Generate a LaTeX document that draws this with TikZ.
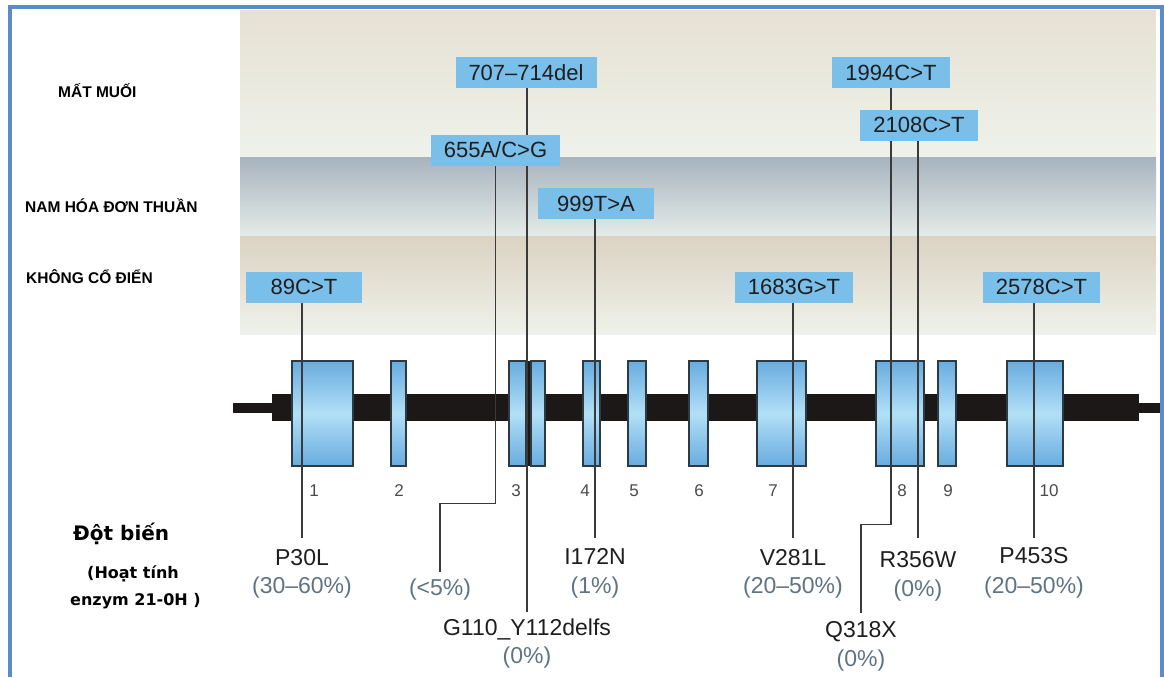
\documentclass[tikz,border=0pt]{standalone}
\usepackage{fontspec}
\setmainfont{Liberation Sans}
\newfontfamily\djv{DejaVu Sans}
\definecolor{Ink}{HTML}{1E1E1E}
\definecolor{Frame}{HTML}{5A8AD0}
\definecolor{BoxBlue}{HTML}{7ABFEA}
\definecolor{ExonDark}{HTML}{68ACDF}
\definecolor{ExonLight}{HTML}{B2DFF7}
\definecolor{ExonEdge}{HTML}{2C3A44}
\definecolor{BarInk}{HTML}{1C1818}
\definecolor{Lead}{HTML}{3A3A3A}
\definecolor{PctGray}{HTML}{5F7483}
\definecolor{NumGray}{HTML}{4A4A4A}
\definecolor{SandTop}{HTML}{E6E1D4}
\definecolor{SandBot}{HTML}{EEF2EA}
\definecolor{SlateTop}{HTML}{A7B3BE}
\definecolor{SlateBot}{HTML}{E4ECE8}
\definecolor{TanTop}{HTML}{DBD2C2}
\pgfdeclarelayer{bands}
\pgfdeclarelayer{leads}
\pgfsetlayers{bands,leads,main}

\begin{document}
\begin{tikzpicture}[x=1pt,y=-1pt,
    mutbox/.style={fill=BoxBlue,text=Ink,font=\fontsize{22}{26}\selectfont,minimum width=116pt,minimum height=31pt,inner xsep=13pt,inner ysep=0pt},
    mutname/.style={anchor=base,text=Ink,font=\fontsize{23}{27}\selectfont,inner sep=2pt},
    mutpct/.style={anchor=base,text=PctGray,font=\fontsize{23}{27}\selectfont,inner sep=2pt},
    exon/.style={draw=ExonEdge,line width=1.4pt,top color=ExonDark,bottom color=ExonDark,middle color=ExonLight},
    exnum/.style={anchor=base,text=NumGray,font=\fontsize{17}{20}\selectfont},
    band/.style={anchor=base west,inner sep=0pt,text=black,font=\bfseries\fontsize{15.5}{18}\selectfont},
    lead/.style={draw=Lead,line width=1.4pt}]
    \useasboundingbox (0,0) rectangle (1164,677);
    \begin{pgfonlayer}{bands}
      \shade[top color=SandTop,bottom color=SandBot] (240,11) rectangle (1156,157);
      \shade[top color=SlateTop,bottom color=SlateBot] (240,157) rectangle (1156,236);
      \shade[top color=TanTop,bottom color=SandBot] (240,236) rectangle (1156,334);
      \fill[BarInk] (233,403) rectangle (1160,413);
      \fill[BarInk] (272,394) rectangle (1139,421);
      \fill[BarInk] (526,361) rectangle (531,466);
      \foreach \xa/\xb in {292/353,391/406,509/526,531/545,583/600,628/646,689/708,757/806,876/924,938/956,1007/1063}
        \draw[exon] (\xa,361) rectangle (\xb,466);
    \end{pgfonlayer}
    \draw[Frame,line width=4pt] (10,677) -- (10,7) -- (1162,7) -- (1162,677);

    \node[band] (salt) at (58,97) {MẤT MUỐI};
    \node[band] (virl) at (25,212) {NAM HÓA ĐƠN THUẦN};
    \node[band] (noncl) at (26,283) {KHÔNG CỔ ĐIỂN};
    \node[anchor=base west,inner sep=0pt,font=\djv\bfseries\fontsize{20}{24}\selectfont] (mut) at (73,540) {Đột biến};
    \node[anchor=base west,inner sep=0pt,font=\djv\bfseries\fontsize{16}{19}\selectfont] (act1) at (87,578) {(Hoạt tính};
    \node[anchor=base west,inner sep=0pt,font=\djv\bfseries\fontsize{16}{19}\selectfont] (act2) at (70,605) {enzym 21-0H )};

    \foreach \x/\n in {314/1,399/2,516/3,585/4,634/5,699/6,773/7,902/8,948/9,1049/10}
      \node[exnum] (num\n) at (\x,496) {\n};

    \node[mutbox] (c89) at (304,287) {89C>T};
    \node[mutbox] (d707) at (526,72.5) {707–714del};
    \node[mutbox] (a655) at (495.5,150) {655A/C>G};
    \node[mutbox] (t999) at (596,203.5) {999T>A};
    \node[mutbox] (g1683) at (794,287) {1683G>T};
    \node[mutbox] (c1994) at (891,72.5) {1994C>T};
    \node[mutbox] (c2108) at (919,125) {2108C>T};
    \node[mutbox] (c2578) at (1041.5,287) {2578C>T};

    \node[mutname] (p30l) at (302,565) {P30L};
    \node[mutpct] (p30lp) at (302,593) {(30–60\%)};
    \node[mutname] (g110) at (527,635) {G110\_Y112delfs};
    \node[mutpct] (g110p) at (527,663) {(0\%)};
    \node[mutpct] (lt5) at (440,595) {(<5\%)};
    \node[mutname] (i172n) at (595,564) {I172N};
    \node[mutpct] (i172np) at (595,593) {(1\%)};
    \node[mutname] (v281l) at (793,565) {V281L};
    \node[mutpct] (v281lp) at (793,593) {(20–50\%)};
    \node[mutname] (q318x) at (861,637) {Q318X};
    \node[mutpct] (q318xp) at (861,666) {(0\%)};
    \node[mutname] (r356w) at (918,567) {R356W};
    \node[mutpct] (r356wp) at (918,596) {(0\%)};
    \node[mutname] (p453s) at (1034,563) {P453S};
    \node[mutpct] (p453sp) at (1034,593) {(20–50\%)};

    \begin{pgfonlayer}{leads}
      \draw[lead,shorten >=9pt] (c89.south -| p30l) -- (p30l.north);
      \draw[lead,shorten >=4pt] (d707.south -| g110) -- (g110.north);
      \draw[lead,shorten >=4pt] (a655.south) -- ++(0,338) -| (lt5.north);
      \draw[lead,shorten >=8pt] (t999.south -| i172n) -- (i172n.north);
      \draw[lead,shorten >=9pt] (g1683.south -| v281l) -- (v281l.north);
      \draw[lead,shorten >=6pt] (c1994.south) -- ++(0,436) -| (q318x.north);
      \draw[lead,shorten >=11pt] (c2108.south -| r356w) -- (r356w.north);
      \draw[lead,shorten >=7pt] (c2578.south -| p453s) -- (p453s.north);
    \end{pgfonlayer}
  \end{tikzpicture}
\end{document}
